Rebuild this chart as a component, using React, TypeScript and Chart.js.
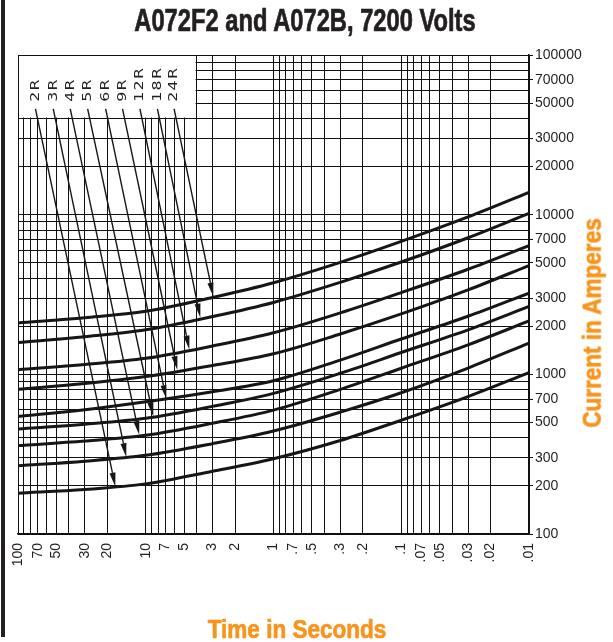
import React, { useEffect, useRef } from "react";
import { Chart, registerables } from "chart.js";

Chart.register(...registerables);

// ---- data ----
const times = [100, 30, 10, 3, 1, 0.3, 0.1, 0.03, 0.01];
const seriesNames = ["2R", "3R", "4R", "5R", "6R", "9R", "12R", "18R", "24R"];
const s2R = [180, 190, 206, 247, 296, 385, 516, 725, 1025];
const s3R = [268, 286, 311, 368, 442, 580, 767, 1095, 1570];
const s4R = [358, 382, 415, 494, 597, 805, 1092, 1530, 2160];
const s5R = [455, 487, 530, 630, 760, 1015, 1370, 1900, 2660];
const s6R = [545, 600, 673, 778, 912, 1228, 1665, 2310, 3230];
const s9R = [805, 876, 968, 1135, 1345, 1790, 2390, 3380, 4800];
const s12R = [1070, 1152, 1260, 1505, 1820, 2425, 3250, 4550, 6400];
const s18R = [1580, 1720, 1900, 2300, 2820, 3770, 5050, 7170, 10200];
const s24R = [2100, 2265, 2480, 3030, 3750, 5030, 6800, 9680, 13800];
const seriesValues = [s2R, s3R, s4R, s5R, s6R, s9R, s12R, s18R, s24R];

// label / arrow callouts
const labelTimes = [73, 53, 39, 28.5, 20.6, 15.2, 11.1, 8.1, 6.0];
const labelCurrent = 51000;
const arrowStartCurrent = 46000;
const arrowEndTimes = [17.3, 14.2, 11.25, 8.73, 6.9, 5.66, 4.56, 3.74, 2.96];
const arrowEndCurrents = [198, 303, 418, 545, 700, 1065, 1430, 2270, 3070];

// blank legend box region (top-left)
const boxTimeEdge = 4;
const boxCurrentEdge = 40000;

// ticks
const xTickLabels = ["100", "70", "50", "30", "20", "10", "7", "5", "3", "2", "1", ".7", ".5", ".3", ".2", ".1", ".07", ".05", ".03", ".02", ".01"];
const yTickLabels = ["100000", "70000", "50000", "30000", "20000", "10000", "7000", "5000", "3000", "2000", "1000", "700", "500", "300", "200", "100"];
const gridMultipliers = [1, 2, 3, 4, 5, 6, 7, 8, 9];
const xDecades = [0.01, 0.1, 1, 10];
const yDecades = [100, 1000, 10000];

const INK = "#231f20";
const LINE = "#161616";
const ORANGE = "#F7941D";

function gridValues(decades: number[], top: number) {
  const out: number[] = [];
  decades.forEach((d) => gridMultipliers.forEach((m) => out.push(m * d)));
  out.push(top);
  return out;
}

function labelFor(labels: string[], v: number) {
  for (const l of labels) {
    const n = Number(l);
    if (Math.abs(n - v) <= n * 1e-6) return l;
  }
  return "";
}

const overlayPlugin = {
  id: "overlay",
  beforeDatasetsDraw(chart: any) {
    const { ctx, chartArea, scales } = chart;
    const x = scales.x;
    const y = scales.y;
    const bx = x.getPixelForValue(boxTimeEdge);
    const by = y.getPixelForValue(boxCurrentEdge);
    ctx.save();
    ctx.fillStyle = "#ffffff";
    ctx.fillRect(chartArea.left + 1, chartArea.top + 1, bx - chartArea.left - 2, by - chartArea.top - 2);
    ctx.restore();
  },
  afterDatasetsDraw(chart: any) {
    const { ctx, scales } = chart;
    const x = scales.x;
    const y = scales.y;
    ctx.save();
    ctx.strokeStyle = LINE;
    ctx.fillStyle = LINE;
    seriesNames.forEach((name, i) => {
      const x0 = x.getPixelForValue(labelTimes[i]);
      const y0 = y.getPixelForValue(arrowStartCurrent);
      const x1 = x.getPixelForValue(arrowEndTimes[i]);
      const y1 = y.getPixelForValue(arrowEndCurrents[i]);
      const ang = Math.atan2(y1 - y0, x1 - x0);
      const len = 14;
      const hw = 3;
      const bxp = x1 - Math.cos(ang) * len;
      const byp = y1 - Math.sin(ang) * len;
      ctx.lineWidth = 1.4;
      ctx.beginPath();
      ctx.moveTo(x0, y0);
      ctx.lineTo(bxp, byp);
      ctx.stroke();
      ctx.beginPath();
      ctx.moveTo(x1, y1);
      ctx.lineTo(bxp - Math.sin(ang) * hw, byp + Math.cos(ang) * hw);
      ctx.lineTo(bxp + Math.sin(ang) * hw, byp - Math.cos(ang) * hw);
      ctx.closePath();
      ctx.fill();

      // label
      const ly = y.getPixelForValue(labelCurrent);
      ctx.save();
      ctx.translate(x0, ly);
      ctx.rotate(-Math.PI / 2);
      ctx.scale(1.22, 1);
      ctx.fillStyle = INK;
      ctx.font = '13px "DejaVu Sans"';
      (ctx as any).letterSpacing = "1px";
      ctx.textAlign = "left";
      ctx.textBaseline = "middle";
      ctx.fillText(name, 0, 0);
      ctx.restore();
    });
    ctx.restore();
  },
};

export default function App() {
  const ref = useRef<HTMLCanvasElement>(null);
  useEffect(() => {
    const xGrid = gridValues(xDecades, 100);
    const yGrid = gridValues(yDecades, 100000);
    const datasets = seriesNames.map((name, i) => ({
      label: name,
      data: times.map((t, j) => ({ x: t, y: seriesValues[i][j] })),
      borderColor: LINE,
      borderWidth: 3,
      pointRadius: 0,
      fill: false,
      cubicInterpolationMode: "monotone" as const,
    }));
    const chart = new Chart(ref.current!, {
      type: "line",
      data: { datasets },
      options: {
        responsive: false,
        animation: false,
        events: [],
        layout: { padding: { left: 18, top: 55, right: 0, bottom: 0 } },
        plugins: {
          legend: { display: false },
          title: { display: false },
          tooltip: { enabled: false },
        },
        scales: {
          x: {
            type: "logarithmic",
            reverse: true,
            min: 0.01,
            max: 100,
            position: "bottom",
            afterBuildTicks: (s: any) => {
              s.ticks = xGrid.map((v) => ({ value: v }));
            },
            afterFit: (s: any) => {
              s.height = 108;
            },
            grid: { color: "#111", lineWidth: 1, drawTicks: false },
            border: { color: "#111", width: 1.5 },
            ticks: {
              autoSkip: false,
              maxRotation: 90,
              minRotation: 90,
              padding: 9,
              color: INK,
              font: { family: "Liberation Sans", size: 14 },
              callback: (v: any) => labelFor(xTickLabels, Number(v)),
            },
          },
          y: {
            type: "logarithmic",
            position: "right",
            min: 100,
            max: 100000,
            afterBuildTicks: (s: any) => {
              s.ticks = yGrid.map((v) => ({ value: v }));
            },
            afterFit: (s: any) => {
              s.width = 84;
            },
            grid: {
              color: "#111",
              lineWidth: 1,
              tickLength: 4,
              tickColor: (c: any) =>
                c.tick && labelFor(yTickLabels, c.tick.value) ? "#111" : "rgba(0,0,0,0)",
            },
            border: { color: "#111", width: 1.5 },
            ticks: {
              autoSkip: false,
              padding: 2,
              color: INK,
              font: { family: "Liberation Sans", size: 14 },
              callback: (v: any) => labelFor(yTickLabels, Number(v)),
            },
          },
        },
      },
      plugins: [overlayPlugin],
    } as any);
    return () => chart.destroy();
  }, []);

  const heavy = { WebkitTextStroke: "0.7px currentColor" } as any;

  return (
    <div
      style={{
        position: "absolute",
        left: 0,
        top: 0,
        width: 613,
        height: 642,
        background: "#fff",
        overflow: "hidden",
      }}
    >
      <canvas ref={ref} width={613} height={642} style={{ position: "absolute", left: 0, top: 0 }} />
      <div style={{ position: "absolute", left: 1, top: 0, width: 4, height: 637, background: INK }} />
      <div
        style={{
          position: "absolute",
          left: 305,
          top: 20,
          transform: "translate(-50%,-50%) scaleX(0.765)",
          fontFamily: '"Liberation Sans", Arial, sans-serif',
          fontWeight: 700,
          fontSize: 31,
          lineHeight: "31px",
          whiteSpace: "nowrap",
          color: INK,
          ...heavy,
        }}
      >
        A072F2 and A072B, 7200 Volts
      </div>
      <div
        style={{
          position: "absolute",
          left: 296.5,
          top: 628.5,
          transform: "translate(-50%,-50%) scaleX(0.85)",
          fontFamily: '"Liberation Sans", Arial, sans-serif',
          fontWeight: 700,
          fontSize: 26.5,
          lineHeight: "26.5px",
          whiteSpace: "nowrap",
          color: ORANGE,
          ...heavy,
        }}
      >
        Time in Seconds
      </div>
      <div
        style={{
          position: "absolute",
          left: 592,
          top: 322.5,
          transform: "translate(-50%,-50%) rotate(-90deg) scaleX(0.85)",
          fontFamily: '"Liberation Sans", Arial, sans-serif',
          fontWeight: 700,
          fontSize: 26.5,
          lineHeight: "26.5px",
          whiteSpace: "nowrap",
          color: ORANGE,
          ...heavy,
        }}
      >
        Current in Amperes
      </div>
    </div>
  );
}
